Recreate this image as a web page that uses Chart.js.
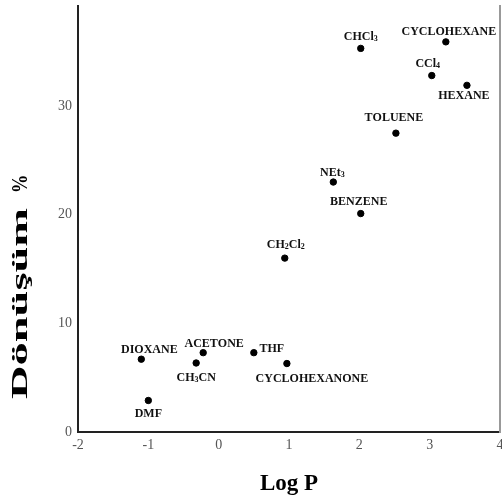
<!DOCTYPE html>
<html>
<head>
<meta charset="utf-8">
<script src="https://cdn.jsdelivr.net/npm/chart.js@4.4.1/dist/chart.umd.min.js"></script>
<style>
    html, body { margin: 0; padding: 0; background: #fff; }
</style>
</head>
<body>
<canvas id="chartSolvent" width="502" height="500"></canvas>
<script>
    // solvents, log P and conversion (%)
    const solvents = ["CHCl3", "CYCLOHEXANE", "CCl4", "HEXANE", "TOLUENE", "NEt3", "BENZENE",
        "CH2Cl2", "THF", "CYCLOHEXANONE", "DIOXANE", "ACETONE", "CH3CN", "DMF"];
    const logP = [2.02, 3.23, 3.03, 3.53, 2.52, 1.63, 2.02, 0.94, 0.50, 0.97, -1.10, -0.22, -0.32, -1.00];
    const conversion = [35.3, 35.9, 32.8, 31.9, 27.5, 23.0, 20.1, 16.0, 7.3, 6.3, 6.7, 7.3, 6.35, 2.9];
    const xTicks = [-2, -1, 0, 1, 2, 3, 4];
    const yTicks = [0, 10, 20, 30];

    // where each name sits relative to its dot (px)
    const labelDx = [0, 3, -4, -3, -2, -1, -2, 1, 18, 25, 8, 11, 0, 0];
    const labelDy = [-11, -10, -12, 11, -15, -9, -12, -13, -4, 15, -9, -9, 15, 13];

    const serif = "'Liberation Serif', 'Times New Roman', serif";

    // names with digits drawn as subscripts
    const pointLabels = {
        id: "pointLabels",
        afterDatasetsDraw(chart) {
            const ctx = chart.ctx;
            const meta = chart.getDatasetMeta(0);
            ctx.save();
            ctx.fillStyle = "#111";
            ctx.textBaseline = "middle";
            ctx.textAlign = "left";
            meta.data.forEach((pt, i) => {
                const text = solvents[i];
                const parts = text.split("").map(c => ({ c, sub: /\d/.test(c) }));
                let w = 0;
                parts.forEach(p => {
                    ctx.font = p.sub ? "bold 8px " + serif : "bold 12px " + serif;
                    p.w = ctx.measureText(p.c).width;
                    w += p.w;
                });
                let x = pt.x + labelDx[i] - w / 2;
                const y = pt.y + labelDy[i];
                parts.forEach(p => {
                    ctx.font = p.sub ? "bold 8px " + serif : "bold 12px " + serif;
                    ctx.fillText(p.c, x, p.sub ? y + 2 : y);
                    x += p.w;
                });
            });
            ctx.restore();
        }
    };

    // stretched vertical title like the original figure
    const yTitle = {
        id: "yTitle",
        afterDraw(chart) {
            const ctx = chart.ctx;
            const cx = chart.chartArea.left - 57;
            ctx.save();
            ctx.font = "bold 24px " + serif;
            ctx.fillStyle = "#000";
            ctx.textAlign = "center";
            ctx.textBaseline = "middle";

            const w = ctx.measureText("Dönüşüm").width;
            ctx.save();
            ctx.translate(cx, 303.5);
            ctx.rotate(-Math.PI / 2);
            ctx.scale(191 / w, 1);
            ctx.fillText("Dönüşüm", 0, 0);
            ctx.restore();

            ctx.translate(cx, 184);
            ctx.rotate(-Math.PI / 2);
            ctx.scale(0.78, 1);
            ctx.fillText("%", 0, 0);
            ctx.restore();
        }
    };

    const chartCtx = document.getElementById("chartSolvent").getContext("2d");

    new Chart(chartCtx, {
        type: "scatter",
        data: {
            datasets: [
                {
                    data: logP.map((x, i) => ({ x, y: conversion[i] })),
                    backgroundColor: "#000",
                    borderColor: "#000",
                    pointRadius: 3.2,
                    pointHoverRadius: 3.2
                }
            ]
        },
        options: {
            responsive: false,
            animation: false,
            layout: { autoPadding: false, padding: { top: 6, right: 2, left: 0, bottom: 0 } },
            plugins: {
                legend: { display: false },
                tooltip: { enabled: false }
            },
            scales: {
                x: {
                    type: "linear",
                    min: -2,
                    max: 4,
                    afterBuildTicks: s => { s.ticks = xTicks.map(v => ({ value: v })); },
                    afterFit: s => { s.height = 68; s.paddingLeft = 0; s.paddingRight = 0; },
                    grid: { display: false, drawTicks: false },
                    border: { display: true, color: "#222", width: 2 },
                    ticks: {
                        color: "#555",
                        padding: 5,
                        font: { family: serif, size: 14 }
                    },
                    title: {
                        display: true,
                        text: "Log P",
                        color: "#000",
                        padding: { top: 0, bottom: 2 },
                        font: { family: serif, size: 23, weight: "bold" }
                    }
                },
                y: {
                    min: 0,
                    max: 39.2,
                    afterBuildTicks: s => { s.ticks = yTicks.map(v => ({ value: v })); },
                    afterFit: s => { s.width = 78; s.paddingTop = 0; s.paddingBottom = 0; },
                    grid: { display: false, drawTicks: false },
                    border: { display: true, color: "#222", width: 2 },
                    ticks: {
                        color: "#555",
                        padding: 6,
                        font: { family: serif, size: 14 }
                    }
                },
                y2: {
                    position: "right",
                    min: 0,
                    max: 39.2,
                    afterFit: s => { s.width = 0; s.paddingTop = 0; s.paddingBottom = 0; },
                    grid: { display: false, drawTicks: false },
                    border: { display: true, color: "#999", width: 2 },
                    ticks: { display: false }
                }
            }
        },
        plugins: [pointLabels, yTitle]
    });
</script>
</body>
</html>
